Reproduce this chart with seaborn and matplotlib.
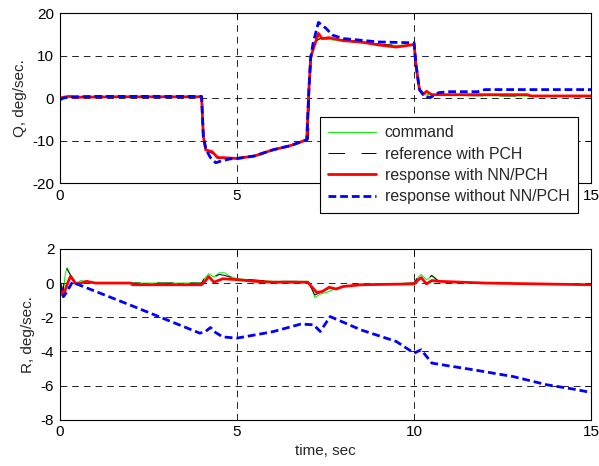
import numpy as np
import pandas as pd
import matplotlib
matplotlib.use("Agg")
import matplotlib.pyplot as plt
import seaborn as sns

# ---------------- data ----------------
labels = ["command", "reference with PCH", "response with NN/PCH", "response without NN/PCH"]
x_ticks = [0, 5, 10, 15]
q_ticks = [-20, -10, 0, 10, 20]
r_ticks = [-8, -6, -4, -2, 0, 2]

# Q, deg/sec
q_cmd_t = [0, 0.15, 0.3, 4.0, 4.03, 4.1, 4.3, 4.5, 5.0, 5.5, 6.0, 6.5, 6.95, 7.0, 7.03, 7.1,
           7.2, 7.3, 7.5, 8.0, 8.5, 9.0, 9.5, 10.0, 10.05, 10.15, 10.3, 10.5, 11, 13, 15]
q_cmd = [0, 0.3, 0.3, 0.3, -8, -12, -13, -14, -14.2, -13.6, -12.2, -11.2, -10, -9.8, 4, 10,
         13, 14, 13.8, 13.5, 13, 12.7, 12.4, 12.5, 8, 2, 1, 0.7, 0.6, 0.5, 0.3]

q_ref_t = [0, 0.15, 0.3, 4.0, 4.04, 4.12, 4.3, 4.5, 5.0, 5.5, 6.0, 6.5, 6.96, 7.02, 7.06, 7.12,
           7.25, 7.4, 7.6, 8.0, 8.5, 9.0, 9.5, 10.0, 10.06, 10.18, 10.3, 10.5, 11, 13, 15]
q_ref = [0, 0.3, 0.3, 0.3, -9, -12.2, -13, -14, -14.2, -13.6, -12.2, -11.2, -10, -9.6, 5, 11,
         13.5, 14.2, 13.8, 13.5, 13, 12.7, 12.4, 12.5, 7, 1.5, 1, 0.7, 0.6, 0.5, 0.3]

q_nn_t = [0, 0.1, 0.25, 0.4, 1.5, 4.0, 4.05, 4.12, 4.3, 4.45, 4.6, 5.0, 5.5, 6.0, 6.5, 6.97,
          7.03, 7.08, 7.15, 7.3, 7.4, 7.6, 8.0, 8.5, 9.0, 9.5, 10.0, 10.05, 10.15, 10.25,
          10.35, 10.5, 10.8, 13.2, 13.3, 15]
q_nn = [0, 0.2, 0.4, 0.2, 0.3, 0.3, -9, -12.2, -12.6, -14.0, -14.0, -14.2, -13.6, -12.2,
        -11.2, -9.8, 2, 9.5, 11.5, 15.2, 14.0, 14.2, 13.5, 13.2, 12.5, 12.0, 12.6, 8, 2, 0.8,
        1.6, 0.8, 0.8, 0.8, 0.5, 0.5]

q_wo_t = [0, 0.1, 0.3, 1.0, 4.0, 4.05, 4.12, 4.25, 4.4, 4.55, 4.8, 5.0, 5.5, 6.0, 6.5, 6.97,
          7.03, 7.08, 7.15, 7.3, 7.5, 7.7, 8.0, 9.0, 10.0, 10.05, 10.15, 10.3, 10.45, 10.7,
          11.0, 11.8, 12.0, 15]
q_wo = [-0.4, 0.0, 0.3, 0.4, 0.4, -9, -12, -14, -15.2, -14.8, -14.3, -14.2, -13.6, -12.2,
        -11.2, -9.8, 2, 9.5, 13, 17.8, 16.5, 14.8, 14, 13.2, 13.0, 8, 2, 0.5, 0.1, 1.3, 1.5,
        1.5, 2.0, 2.0]

# R, deg/sec
r_cmd_t = [0, 0.08, 0.15, 0.2, 0.3, 0.45, 0.6, 0.8, 1.0, 4.0, 4.1, 4.2, 4.35, 4.5, 4.65, 4.8,
           5.0, 6.0, 7.0, 7.1, 7.2, 7.35, 7.6, 7.8, 8.0, 8.5, 10.0, 10.1, 10.2, 10.35, 10.5,
           10.7, 12, 15]
r_cmd = [-0.6, -0.8, 0.5, 0.9, 0.5, 0.0, 0.15, 0.05, 0.0, 0.0, 0.3, 0.55, 0.35, 0.6, 0.6,
         0.4, 0.25, 0.1, 0.1, -0.3, -0.85, -0.65, -0.5, -0.3, -0.2, -0.1, 0.0, 0.3, 0.5, 0.2,
         0.4, 0.1, 0.0, -0.1]

r_ref_t = [0, 0.08, 0.14, 0.18, 0.3, 0.45, 0.6, 0.8, 1.0, 4.0, 4.08, 4.15, 4.3, 4.5, 4.65,
           4.8, 5.0, 6.0, 7.0, 7.1, 7.2, 7.35, 7.6, 7.8, 8.0, 8.5, 10.0, 10.1, 10.2, 10.35,
           10.5, 10.7, 12, 15]
r_ref = [-0.5, -0.7, 0.6, 0.9, 0.45, 0.0, 0.15, 0.05, 0.0, 0.0, 0.3, 0.55, 0.3, 0.5, 0.45,
         0.35, 0.25, 0.1, 0.1, -0.3, -0.7, -0.55, -0.5, -0.35, -0.2, -0.1, 0.0, 0.35, 0.45,
         0.2, 0.45, 0.1, 0.0, -0.1]

r_nn_t = [0, 0.1, 0.2, 0.3, 0.45, 0.6, 0.75, 1.0, 2.0, 2.05, 4.0, 4.1, 4.2, 4.35, 4.6, 5.0,
          5.5, 6.0, 7.0, 7.1, 7.25, 7.4, 7.6, 7.8, 8.0, 8.5, 10.0, 10.1, 10.2, 10.35, 10.5,
          10.7, 12, 15]
r_nn = [0, -0.75, -0.1, 0.4, -0.05, 0.0, 0.1, 0.0, 0.0, -0.1, -0.1, 0.1, 0.38, 0.05, 0.25,
        0.2, 0.1, 0.05, 0.05, -0.2, -0.55, -0.5, -0.25, -0.35, -0.2, -0.1, -0.05, 0.15, 0.32,
        -0.05, 0.15, 0.1, 0.0, -0.1]

r_wo_t = [0, 0.1, 0.2, 0.35, 2.0, 3.95, 4.1, 4.25, 4.4, 4.6, 5.0, 6.0, 6.8, 7.16, 7.35, 7.63,
          8.5, 9.5, 10.0, 10.2, 10.5, 11.0, 11.7, 12.8, 13.75, 14.5, 15]
r_wo = [0, -0.8, -0.5, 0.05, -1.3, -2.93, -2.85, -2.6, -2.9, -3.15, -3.22, -2.85, -2.4,
        -2.44, -2.83, -1.96, -2.74, -3.42, -4.1, -3.9, -4.68, -4.85, -5.08, -5.47, -5.95,
        -6.2, -6.4]

# ---------------- style ----------------
sns.set_style("white")
plt.rcParams["font.family"] = ["Liberation Sans", "DejaVu Sans"]
plt.rcParams["font.size"] = 11
FS = 11

styles = [
    dict(color="#00ee00", lw=0.7, linestyle="-"),
    dict(color="black", lw=0.7, linestyle=(0, (17, 17))),
    dict(color="#ff0000", lw=2.0, linestyle="-"),
    dict(color="#0000ff", lw=2.0, linestyle=(0, (2.8, 1.4))),
]

fig = plt.figure(figsize=(5.99, 4.66), dpi=100)
ax1 = fig.add_axes([0.100, 0.607, 0.887, 0.365])
ax2 = fig.add_axes([0.100, 0.099, 0.887, 0.367])


def draw(ax, series):
    for (tt, vv), st, lab in zip(series, styles, labels):
        df = pd.DataFrame({"t": tt, "v": vv})
        sns.lineplot(data=df, x="t", y="v", ax=ax, estimator=None, sort=False,
                     label=lab, legend=False, **st)


draw(ax1, [(q_cmd_t, q_cmd), (q_ref_t, q_ref), (q_nn_t, q_nn), (q_wo_t, q_wo)])
draw(ax2, [(r_cmd_t, r_cmd), (r_ref_t, r_ref), (r_nn_t, r_nn), (r_wo_t, r_wo)])

for ax, yt, ylab in [(ax1, q_ticks, "Q, deg/sec."), (ax2, r_ticks, "R, deg/sec.")]:
    ax.set_xlim(x_ticks[0], x_ticks[-1])
    ax.set_ylim(yt[0], yt[-1])
    ax.set_xticks(x_ticks)
    ax.set_yticks(yt)
    ax.set_yticklabels([str(v) for v in yt])
    ax.set_ylabel(ylab, fontsize=FS, labelpad=4)
    ax.set_xlabel("")
    ax.grid(True, color="black", lw=0.6, linestyle=(0, (8, 6)))
    ax.set_axisbelow(True)
    ax.tick_params(direction="in", length=4, width=0.6, top=True, right=True,
                   labelsize=FS, pad=4, colors="black")
    for sp in ax.spines.values():
        sp.set_visible(True)
        sp.set_color("black")
        sp.set_linewidth(0.8)

# the "10" label of the upper panel is hidden behind the legend in the reference
ax1.set_xticklabels([str(v) if v != 10 else "" for v in x_ticks])
ax2.set_xticklabels([str(v) for v in x_ticks])
ax2.set_xlabel("time, sec", fontsize=FS, labelpad=3)

handles = ax1.get_lines()[:4]
leg = ax1.legend(handles, labels, loc="lower right", bbox_to_anchor=(0.965, 0.543),
                 bbox_transform=fig.transFigure, fontsize=11.4, frameon=True, fancybox=False,
                 framealpha=1, edgecolor="black", handlelength=3.0, labelspacing=0.4,
                 borderpad=0.55, handletextpad=0.55, borderaxespad=0)
leg.get_frame().set_linewidth(0.8)
leg.set_zorder(10)

fig.savefig("out.png", dpi=100, facecolor="white")
